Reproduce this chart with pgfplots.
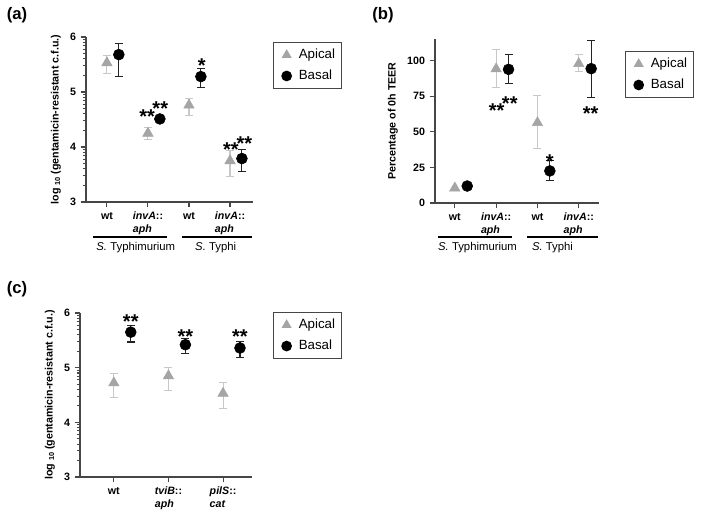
\documentclass[border=0pt]{standalone}
\usepackage{fontspec}
\setmainfont{Liberation Sans}
\usepackage{pgfplots}
\pgfplotsset{compat=1.18}
\definecolor{apical}{RGB}{165,165,165}
\definecolor{apicalbar}{RGB}{200,200,200}
\definecolor{basalbar}{RGB}{35,35,35}
\definecolor{axisgray}{RGB}{70,70,70}
\pgfplotsset{
  panel/.style={
    scale only axis,
    anchor=south west,
    axis x line*=bottom,
    axis y line*=left,
    clip=false,
    axis line style={axisgray, line width=0.9pt},
    tick style={axisgray, line width=0.8pt},
    tick align=outside,
    major tick length=4pt,
    minor tick length=2.5pt,
    xtick={0,1,2,3},
    /pgf/number format/assume math mode=true,
    ticklabel style={font=\fontsize{8}{9.5}\selectfont\bfseries},
    xticklabel style={align=left},
    ylabel style={font=\fontsize{8}{9.5}\selectfont\bfseries},
    legend cell align=left,
    legend style={draw=axisgray, line width=0.8pt, font=\fontsize{10}{12}\selectfont,
      inner xsep=2.7pt, inner ysep=3pt, row sep=3pt, anchor=north west},
  },
  myleg/.style={legend image code/.code={
      \path[draw=none, fill=none] (0cm,-0.1cm) rectangle (0.5cm,0.1cm);
      \draw[##1, mark size=3.6pt] plot coordinates {(0.25cm,0cm)};}},
  ap/.style={only marks, mark=triangle*, mark size=4.5pt, color=apical,
    mark options={fill=apical, draw=apical, solid}, myleg,
    error bars/.cd, y dir=both, y explicit,
    error bar style={apicalbar, line width=0.8pt},
    error mark options={rotate=90, apicalbar, mark size=3pt, line width=0.8pt}},
  ba/.style={only marks, mark=*, mark size=4.1pt, color=black,
    mark options={fill=black, draw=black, solid}, myleg,
    error bars/.cd, y dir=both, y explicit,
    error bar style={basalbar, line width=0.8pt},
    error mark options={rotate=90, basalbar, mark size=3pt, line width=0.8pt}},
  logminor/.style={minor ytick={3.301,3.477,3.602,3.699,3.778,3.845,3.903,3.954,
      4.301,4.477,4.602,4.699,4.778,4.845,4.903,4.954,
      5.301,5.477,5.602,5.699,5.778,5.845,5.903,5.954}},
}
\tikzset{ast/.style={font=\fontsize{15}{15}\selectfont\bfseries, anchor=base, yshift=-8.6pt, inner sep=0pt}}
\newcommand{\cfulabel}{log \raisebox{-0.25ex}{\fontsize{5.5}{6}\selectfont 10} (gentamicin-resistant c.f.u.)}
\begin{document}
\begin{tikzpicture}[x=0.75pt,y=0.75pt]
\useasboundingbox[fill=white] (0,0) rectangle (703,-514);

% ---------------- (a)
\begin{axis}[panel, at={(64.5pt,-151.5pt)}, width=125.25pt, height=123.75pt,
  xmin=-0.51, xmax=3.56, ymin=3, ymax=6, ytick={3,4,5,6}, logminor,
  xticklabels={wt,{\textit{invA}::\\\textit{aph}},wt,{\textit{invA}::\\\textit{aph}}},
  ylabel={\cfulabel},
  legend style={at={(1.12,0.97)}}]
\addplot[ap] coordinates {
  (0,5.53) += (0,0.13) -= (0,0.20)
  (1,4.25) += (0,0.11) -= (0,0.12)
  (2,4.76) += (0,0.13) -= (0,0.18)
  (3,3.75) += (0,0.18) -= (0,0.28)};
\addlegendentry{Apical}
\addplot[ba] coordinates {
  (0.29,5.68) += (0,0.21) -= (0,0.40)
  (1.29,4.51) += (0,0.02) -= (0,0.02)
  (2.29,5.28) += (0,0.14) -= (0,0.19)
  (3.29,3.79) += (0,0.16) -= (0,0.24)};
\addlegendentry{Basal}
\node[ast] at (axis cs:0.98,4.64) {**};
\node[ast] at (axis cs:1.30,4.79) {**};
\node[ast] at (axis cs:2.31,5.56) {*};
\node[ast] at (axis cs:3.02,4.03) {**};
\node[ast] at (axis cs:3.35,4.15) {**};
\end{axis}

% ---------------- (b)
\begin{axis}[panel, at={(326.25pt,-152.25pt)}, width=123pt, height=123pt,
  xmin=-0.48, xmax=3.49, ymin=0, ymax=115, ytick={0,25,50,75,100},
  xticklabels={wt,{\textit{invA}::\\\textit{aph}},wt,{\textit{invA}::\\\textit{aph}}},
  ylabel={Percentage of 0h TEER},
  legend style={at={(1.159,0.927)}}]
\addplot[ap] coordinates {
  (1,94.0) += (0,13.5) -= (0,12.7)
  (2,56.3) += (0,19.4) -= (0,18.2)
  (3,97.7) += (0,6.3) -= (0,5.4)};
\addlegendentry{Apical}
\addplot[ba] coordinates {
  (1.3,93.7) += (0,10.3) -= (0,10.1)
  (2.3,22.5) += (0,7.0) -= (0,6.5)
  (3.3,94.2) += (0,19.8) -= (0,20.4)};
\addlegendentry{Basal}
\addplot[only marks, mark=triangle*, mark size=4.5pt, color=apical, mark options={fill=apical}, forget plot] coordinates {(0,10.5)};
\addplot[only marks, mark=*, mark size=4.1pt, color=black, mark options={fill=black}, forget plot] coordinates {(0.3,11.9)};
\node[ast] at (axis cs:1.01,67.8) {**};
\node[ast] at (axis cs:1.33,73) {**};
\node[ast] at (axis cs:2.30,32) {*};
\node[ast] at (axis cs:3.29,65.7) {**};
\end{axis}

% ---------------- (c)
\begin{axis}[panel, at={(60pt,-357.75pt)}, width=129pt, height=123pt,
  xtick={0,1,2}, xmin=-0.62, xmax=2.53, ymin=3, ymax=6, ytick={3,4,5,6}, logminor,
  xticklabels={wt,{\textit{tviB}::\\\textit{aph}},{\textit{pilS}::\\\textit{cat}}},
  ylabel={\cfulabel},
  legend style={at={(1.122,1.006)}}]
\addplot[ap] coordinates {
  (0,4.72) += (0,0.18) -= (0,0.26)
  (1,4.85) += (0,0.16) -= (0,0.26)
  (2,4.53) += (0,0.20) -= (0,0.28)};
\addlegendentry{Apical}
\addplot[ba] coordinates {
  (0.31,5.65) += (0,0.13) -= (0,0.18)
  (1.31,5.42) += (0,0.11) -= (0,0.16)
  (2.31,5.36) += (0,0.12) -= (0,0.17)};
\addlegendentry{Basal}
\node[ast] at (axis cs:0.31,5.93) {**};
\node[ast] at (axis cs:1.31,5.65) {**};
\node[ast] at (axis cs:2.31,5.65) {**};
\end{axis}

% group lines and labels
\begin{scope}[line width=0.9pt]
\draw (93,-237) -- (167,-237);
\draw (182,-237) -- (252,-237);
\draw (438,-237) -- (512,-237);
\draw (527,-237) -- (598,-237);
\end{scope}
\begin{scope}[font=\fontsize{8.5}{10}\selectfont]
\node at (135.8,-248) {\textit{S.} Typhimurium};
\node at (215.7,-248) {\textit{S.} Typhi};
\node at (477.5,-248) {\textit{S.} Typhimurium};
\node at (552.5,-248) {\textit{S.} Typhi};
\end{scope}
% panel labels
\begin{scope}[font=\fontsize{12.5}{14}\selectfont\bfseries]
\node at (17,-15) {(a)};
\node at (383,-15) {(b)};
\node at (17,-289) {(c)};
\end{scope}
\end{tikzpicture}
\end{document}
